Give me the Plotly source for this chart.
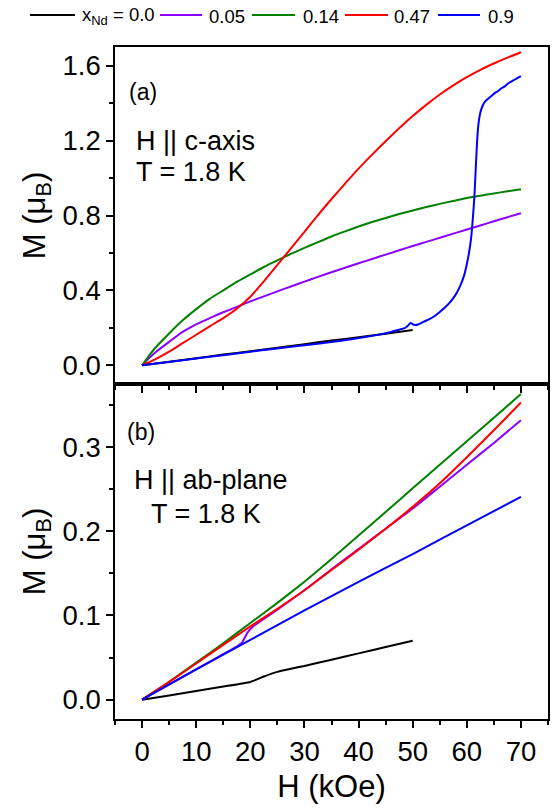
import plotly.graph_objects as go
from plotly.subplots import make_subplots

# ---------- data: panel (a) H || c-axis ----------
H_a = [0, 1, 2.5, 5, 7.5, 10, 12.5, 15, 17.5, 20, 22.5, 25, 27.5, 30, 32.5, 35,
       37.5, 40, 42.5, 45, 47.5, 50, 52.5, 55, 57.5, 60, 62.5, 65, 67.5, 70]
M_a_005 = [0, 0.03, 0.07, 0.125, 0.178, 0.218, 0.252, 0.283, 0.312, 0.341, 0.368, 0.395,
           0.421, 0.447, 0.472, 0.497, 0.521, 0.545, 0.568, 0.591, 0.614, 0.637, 0.659,
           0.681, 0.703, 0.725, 0.747, 0.769, 0.791, 0.812]
M_a_014 = [0, 0.04, 0.095, 0.17, 0.24, 0.30, 0.355, 0.40, 0.445, 0.485, 0.525, 0.56,
           0.595, 0.627, 0.658, 0.688, 0.715, 0.741, 0.765, 0.787, 0.808, 0.827, 0.845,
           0.862, 0.878, 0.893, 0.906, 0.918, 0.929, 0.94]
M_a_047 = [0, 0.013, 0.033, 0.073, 0.118, 0.163, 0.208, 0.252, 0.302, 0.366, 0.448, 0.536,
           0.624, 0.713, 0.802, 0.888, 0.97, 1.05, 1.125, 1.197, 1.266, 1.331, 1.391,
           1.446, 1.495, 1.539, 1.578, 1.612, 1.643, 1.672]
H_a_00 = [0, 5, 10, 15, 20, 25, 30, 35, 40, 45, 50]
M_a_00 = [0, 0.019, 0.038, 0.057, 0.075, 0.094, 0.113, 0.132, 0.150, 0.169, 0.188]
H_a_09 = [0, 5, 10, 15, 20, 25, 30, 35, 38, 40, 42, 44, 46, 47.5, 48.5, 49.2, 49.6,
          50.2, 51, 52, 53, 54, 55, 56, 57, 58, 58.8, 59.5, 60, 60.4, 60.8, 61.1,
          61.4, 61.6, 61.8, 62.0, 62.2, 62.5, 62.9, 63.4, 64, 64.6, 65.2, 65.8, 66.4,
          67, 67.6, 68.2, 68.8, 69.4, 70]
M_a_09 = [0, 0.018, 0.036, 0.054, 0.072, 0.090, 0.107, 0.124, 0.136, 0.145, 0.155,
          0.165, 0.178, 0.19, 0.198, 0.214, 0.226, 0.216, 0.218, 0.232, 0.245, 0.262,
          0.285, 0.31, 0.34, 0.38, 0.425, 0.48, 0.54, 0.60, 0.68, 0.78, 0.9, 1.02,
          1.14, 1.24, 1.30, 1.35, 1.385, 1.41, 1.425, 1.44, 1.455, 1.465, 1.48, 1.49,
          1.505, 1.515, 1.525, 1.535, 1.545]

# ---------- data: panel (b) H || ab-plane ----------
H_b = [0, 5, 10, 15, 20, 25, 30, 35, 40, 45, 50, 55, 60, 65, 70]
M_b_014 = [0, 0.021, 0.044, 0.067, 0.091, 0.115, 0.14, 0.167, 0.195, 0.223, 0.251,
           0.279, 0.307, 0.335, 0.363]
M_b_047 = [0, 0.021, 0.043, 0.065, 0.087, 0.108, 0.13, 0.154, 0.178, 0.203, 0.229,
           0.257, 0.288, 0.32, 0.353]
H_b_005 = [0, 5, 10, 15, 17.5, 18.5, 19.5, 20.5, 25, 30, 35, 40, 45, 50, 55, 60, 65, 70]
M_b_005 = [0, 0.018, 0.036, 0.054, 0.063, 0.068, 0.080, 0.087, 0.107, 0.13, 0.155,
           0.179, 0.203, 0.227, 0.253, 0.279, 0.305, 0.332]
H_b_09 = [0, 10, 20, 30, 40, 50, 60, 70]
M_b_09 = [0, 0.036, 0.071, 0.106, 0.14, 0.173, 0.207, 0.241]
H_b_00 = [0, 5, 10, 15, 20, 22.5, 25, 27.5, 30, 35, 40, 45, 50]
M_b_00 = [0, 0.005, 0.0102, 0.0155, 0.021, 0.0275, 0.033, 0.0368, 0.040, 0.0475,
          0.055, 0.0625, 0.070]

names = ["x<sub>Nd</sub> = 0.0", "0.05", "0.14", "0.47", "0.9"]
colors = ["#000000", "#8B00FF", "#008000", "#FF0000", "#0000FF"]

FONT = "Liberation Sans, Arial, sans-serif"

fig = make_subplots(rows=2, cols=1, shared_xaxes=True, vertical_spacing=0)

top = [(H_a_00, M_a_00), (H_a, M_a_005), (H_a, M_a_014), (H_a, M_a_047), (H_a_09, M_a_09)]
bot = [(H_b_00, M_b_00), (H_b_005, M_b_005), (H_b, M_b_014), (H_b, M_b_047), (H_b_09, M_b_09)]

for i, (x, y) in enumerate(top):
    fig.add_trace(go.Scatter(x=x, y=y, mode="lines", name=names[i],
                             line=dict(color=colors[i], width=2, shape="spline", smoothing=0.6),
                             showlegend=False), row=1, col=1)
for i, (x, y) in enumerate(bot):
    fig.add_trace(go.Scatter(x=x, y=y, mode="lines", name=names[i],
                             line=dict(color=colors[i], width=2, shape="spline", smoothing=0.4),
                             showlegend=False), row=2, col=1)

L, R, T, B = 115, 12, 47, 91
W, Hh = 560, 810
ph = Hh - T - B
pw = W - L - R
split = (719 - 384) / ph

TICKSZ = 27.5
TITLESZ = 31

axis_common = dict(showline=True, linecolor="black", linewidth=1.5, mirror=True,
                   ticks="outside", ticklen=7, tickwidth=1.5, tickcolor="black",
                   showgrid=False, zeroline=False, automargin=False,
                   tickfont=dict(size=TICKSZ, color="black", family=FONT))

fig.update_xaxes(**axis_common, range=[-5, 75], tick0=0, dtick=10,
                 minor=dict(ticks="outside", ticklen=4, tickwidth=1.5, tickcolor="black",
                            dtick=5, tick0=0, showgrid=False))
fig.update_xaxes(showticklabels=False, row=1, col=1)
fig.update_xaxes(title=dict(text="H (kOe)", font=dict(size=TITLESZ, color="black", family=FONT),
                            standoff=10), row=2, col=1)

fig.update_yaxes(**axis_common)
fig.update_yaxes(range=[-0.1, 1.7], tick0=0, dtick=0.4, tickformat=".1f",
                 minor=dict(ticks="outside", ticklen=4, tickwidth=1.5, tickcolor="black",
                            dtick=0.2, tick0=0, showgrid=False),
                 title=dict(text="M (μ<sub>B</sub>)", font=dict(size=TITLESZ, color="black", family=FONT),
                            standoff=8),
                 domain=[split, 1], row=1, col=1)
fig.update_yaxes(range=[-0.023, 0.375], tick0=0, dtick=0.1, tickformat=".1f",
                 minor=dict(ticks="outside", ticklen=4, tickwidth=1.5, tickcolor="black",
                            dtick=0.05, tick0=0, showgrid=False),
                 title=dict(text="M (μ<sub>B</sub>)", font=dict(size=TITLESZ, color="black", family=FONT),
                            standoff=8),
                 domain=[0, split], row=2, col=1)


def px2x(px):
    return (px - L) / pw


def py2y(py):
    return (Hh - B - py) / ph


ann = [
    ("(a)", 127, 92, 23),
    ("H || c-axis", 134, 141, 27),
    ("T = 1.8 K", 134, 172, 27),
    ("(b)", 125, 432, 23),
    ("H || ab-plane", 132, 480, 27),
    ("T = 1.8 K", 149, 514, 27),
]
for text, ax, ay, sz in ann:
    fig.add_annotation(text=text, x=px2x(ax), y=py2y(ay), xref="paper", yref="paper",
                       xanchor="left", yanchor="middle", showarrow=False,
                       font=dict(size=sz, color="black", family=FONT))

# legend drawn as line samples + labels along the top
leg_lines = [(30, 75), (160, 202), (252, 295), (345, 388), (438, 480)]
leg_texts = [80, 207, 301, 392, 486]
LEG_Y = 15
for i in range(5):
    x0, x1 = leg_lines[i]
    fig.add_shape(type="line", xref="paper", yref="paper",
                  x0=px2x(x0), x1=px2x(x1), y0=py2y(LEG_Y), y1=py2y(LEG_Y),
                  line=dict(color=colors[i], width=2))
    fig.add_annotation(text=names[i], x=px2x(leg_texts[i]), y=py2y(LEG_Y + 1),
                       xref="paper", yref="paper", xanchor="left", yanchor="middle",
                       showarrow=False, font=dict(size=18.5, color="black", family=FONT))

fig.update_layout(
    width=W, height=Hh,
    margin=dict(l=L, r=R, t=T, b=B, autoexpand=False),
    paper_bgcolor="white", plot_bgcolor="white",
    font=dict(family=FONT, color="black"),
    showlegend=False,
)

fig.write_html("out.html", config={"displayModeBar": False},
               post_script="document.body.style.margin='0px';document.body.style.padding='0px';"
                           "document.documentElement.style.overflow='hidden';")
